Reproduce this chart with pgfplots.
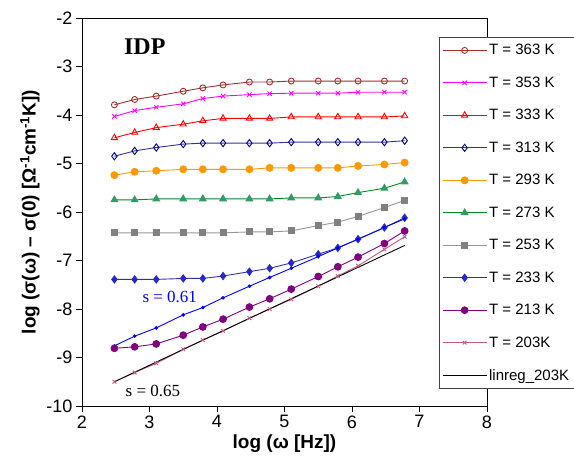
\documentclass[border=0pt]{standalone}
\usepackage{fontspec}
\setmainfont{Liberation Sans}
\newfontfamily\timesfont{Liberation Serif}
\usepackage{pgfplots}
\usepackage{pgfplotstable}
\pgfplotsset{compat=1.18}

\definecolor{c363}{RGB}{160,48,48}
\definecolor{c353}{RGB}{255,0,255}
\definecolor{c333}{RGB}{255,0,0}
\definecolor{c313}{RGB}{51,51,153}
\definecolor{c313m}{RGB}{0,0,128}
\definecolor{c293}{RGB}{255,153,0}
\definecolor{c273}{RGB}{0,140,40}
\definecolor{c273m}{RGB}{51,153,102}
\definecolor{c253}{RGB}{150,150,150}
\definecolor{c253m}{RGB}{128,128,128}
\definecolor{c233}{RGB}{51,51,153}
\definecolor{c233m}{RGB}{40,40,200}
\definecolor{creg}{RGB}{0,0,255}
\definecolor{c213}{RGB}{128,0,128}
\definecolor{c203}{RGB}{190,90,130}

% log(omega) and log(sigma(omega)-sigma(0)) for each temperature
\pgfplotstableread{
x    t363  t353  t333  t313  t293  t273  t253  t233  r233  t213  t203
2.48 -3.79 -4.03 -4.47 -4.85 -5.24 -5.75 -6.43 -7.39 -8.76 -8.81 -9.50
2.78 -3.68 -3.91 -4.36 -4.74 -5.17 -5.75 -6.43 -7.39 -8.56 -8.78 -9.31
3.10 -3.61 -3.84 -4.26 -4.67 -5.15 -5.73 -6.43 -7.39 -8.39 -8.72 -9.12
3.50 -3.51 -3.77 -4.19 -4.60 -5.12 -5.73 -6.43 -7.37 -8.12 -8.54 -8.83
3.79 -3.44 -3.66 -4.12 -4.58 -5.12 -5.73 -6.43 -7.37 -7.97 -8.37 -8.64
4.09 -3.38 -3.61 -4.07 -4.58 -5.12 -5.73 -6.43 -7.32 -7.77 -8.21 -8.45
4.48 -3.32 -3.58 -4.07 -4.58 -5.12 -5.73 -6.41 -7.23 -7.53 -7.96 -8.19
4.78 -3.32 -3.56 -4.07 -4.58 -5.09 -5.73 -6.41 -7.16 -7.35 -7.79 -8.00
5.10 -3.30 -3.55 -4.04 -4.56 -5.09 -5.71 -6.39 -7.05 -7.16 -7.59 -7.80
5.50 -3.30 -3.55 -4.04 -4.56 -5.09 -5.71 -6.28 -6.87 -6.92 -7.33 -7.53
5.79 -3.30 -3.55 -4.04 -4.56 -5.09 -5.68 -6.21 -6.74 -6.74 -7.13 -7.32
6.09 -3.30 -3.53 -4.04 -4.56 -5.05 -5.60 -6.09 -6.56 -6.56 -6.93 -7.11
6.48 -3.30 -3.53 -4.04 -4.56 -5.02 -5.51 -5.91 -6.32 -6.32 -6.65 -6.77
6.78 -3.30 -3.53 -4.02 -4.53 -4.98 -5.38 -5.76 -6.12 -6.14 -6.39 -6.51
}\datatable

\begin{document}
\begin{tikzpicture}[x=1pt,y=1pt]
\useasboundingbox (0,0) rectangle (574,474);
\begin{axis}[
  at={(82pt,68pt)}, anchor=south west,
  scale only axis, width=405pt, height=388pt,
  xmin=2, xmax=8, ymin=-10, ymax=-2,
  xtick={2,3,...,8}, ytick={-10,-9,...,-2},
  tick align=outside, xtick pos=bottom, ytick pos=left,
  major tick length=6pt,
  axis line style={line width=0.8pt},
  tick style={black, line width=0.8pt},
  ticklabel style={font=\fontsize{18}{20}\selectfont},
  /pgf/number format/assume math mode=true,
  xlabel={\textbf{log (ω [Hz])}},
  ylabel={\textbf{log (σ(ω) – σ(0) [Ω\textsuperscript{-1}cm\textsuperscript{-1}K])}},
  label style={font=\fontsize{19}{21}\selectfont},
  legend style={at={(rel axis cs:0.881,0.951)}, anchor=north west,
    draw=black!75, line width=0.8pt, fill=white,
    font=\fontsize{15}{17}\selectfont, row sep=16.5pt,
    inner xsep=3pt, inner ysep=5pt},
  legend cell align=left,
  legend image code/.code={\draw[mark repeat=2,mark phase=2,#1]
     plot coordinates {(0pt,0pt) (22pt,0pt) (44pt,0pt)};},
  every axis plot/.append style={line width=0.9pt},
]
\addplot[c363, mark=o, mark size=3pt, mark options={line width=0.9pt}] table[x=x,y=t363] {\datatable};
\addlegendentry{T = 363 K}
\addplot[c353, mark=x, mark size=3pt] table[x=x,y=t353] {\datatable};
\addlegendentry{T = 353 K}
\addplot[c333, mark=triangle, mark size=3.6pt] table[x=x,y=t333] {\datatable};
\addlegendentry{T = 333 K}
\addplot[c313, mark=diamond, mark size=3.6pt, mark options={draw=c313m}] table[x=x,y=t313] {\datatable};
\addlegendentry{T = 313 K}
\addplot[c293, mark=*, mark size=3.5pt] table[x=x,y=t293] {\datatable};
\addlegendentry{T = 293 K}
\addplot[c273, mark=triangle*, mark size=3.8pt, mark options={draw=c273m, fill=c273m}] table[x=x,y=t273] {\datatable};
\addlegendentry{T = 273 K}
\addplot[c253, mark=square*, mark size=3pt, mark options={draw=c253m, fill=c253m}] table[x=x,y=t253] {\datatable};
\addlegendentry{T = 253 K}
\addplot[c233, mark=diamond*, mark size=3.6pt, mark options={draw=c233m, fill=c233m}] table[x=x,y=t233] {\datatable};
\addlegendentry{T = 233 K}
\addplot[creg, mark=*, mark size=1.3pt, forget plot] table[x=x,y=r233] {\datatable};
\addplot[c213, mark=*, mark size=3.4pt] table[x=x,y=t213] {\datatable};
\addlegendentry{T = 213 K}
\addplot[c203, mark=x, mark size=2.6pt] table[x=x,y=t203] {\datatable};
\addlegendentry{T = 203K}
\addplot[black, no marks] coordinates {(2.48,-9.50) (6.78,-6.69)};
\addlegendentry{linreg\_203K}

\node[font=\timesfont\bfseries\fontsize{24}{26}\selectfont] at (axis cs:2.93,-2.60) {IDP};
\node[font=\timesfont\fontsize{17}{19}\selectfont, text=creg] at (axis cs:3.30,-7.75) {s = 0.61};
\node[font=\timesfont\fontsize{17}{19}\selectfont] at (axis cs:3.05,-9.69) {s = 0.65};
\end{axis}
\end{tikzpicture}
\end{document}
